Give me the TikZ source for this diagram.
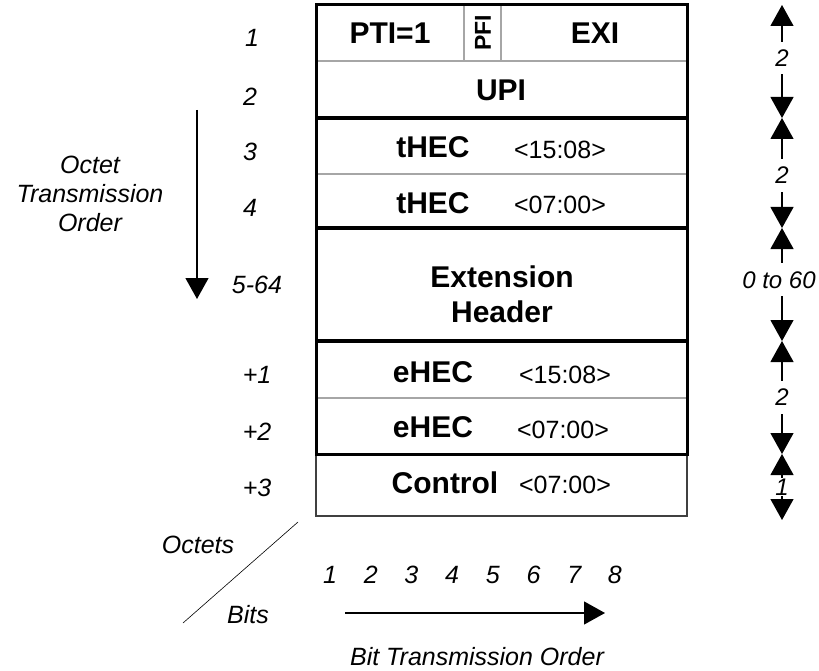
\documentclass[tikz,border=0pt]{standalone}
\usepackage{fontspec}
\setmainfont{Liberation Sans}
\usetikzlibrary{arrows.meta}
\tikzset{
  field/.style={font=\fontsize{30}{35}\selectfont\bfseries},
  bitrange/.style={font=\fontsize{25}{28}\selectfont},
  octet/.style={font=\fontsize{25}{29}\selectfont\itshape},
  dimlabel/.style={font=\fontsize{24}{28}\selectfont\itshape, fill=white},
  tipped/.style={-{Triangle[width=23pt,length=21pt]}, line width=1.2pt},
  dimline/.style={{Triangle[width=23pt,length=21pt]}-{Triangle[width=23pt,length=21pt]}, line width=1.2pt},
  rowline/.style={line width=3.5pt},
  thinline/.style={line width=1.5pt, black!35},
}
\begin{document}
\begin{tikzpicture}[x=1pt,y=-1pt]
\useasboundingbox (0,0) rectangle (819,671);
		% the frame
		\draw[line width=2pt, black!75] (316,454) rectangle (687,516);
		\draw[thinline] (316,61) -- (687,61);
		\draw[thinline] (464,5) -- (464,61);
		\draw[thinline] (501,5) -- (501,61);
		\draw[thinline] (316,174) -- (687,174);
		\draw[thinline] (316,398) -- (687,398);
		\draw[rowline] (316,118) -- (687,118);
		\draw[rowline] (316,228) -- (687,228);
		\draw[rowline] (316,341) -- (687,341);
		\draw[line width=3pt] (316,5) rectangle (687,454);
    \node[field] (pti) at (390,33) {PTI=1};
    \node[field, font=\fontsize{23}{24}\selectfont\bfseries, rotate=90] (pfi) at (483,33) {PFI};
    \node[field] (exi) at (595,33) {EXI};
    \node[field] (upi) at (501,90) {UPI};
    \node[field] (thec1) at (433,147) {tHEC};
    \node[bitrange] (thec1r) at (560,150) {<15:08>};
    \node[field] (thec2) at (433,203) {tHEC};
    \node[bitrange] (thec2r) at (560,205) {<07:00>};
    \node[field, align=center] (ext) at (502,294) {Extension\\Header};
    \node[field] (ehec1) at (433,372) {eHEC};
    \node[bitrange] (ehec1r) at (565,375) {<15:08>};
    \node[field] (ehec2) at (433,427) {eHEC};
    \node[bitrange] (ehec2r) at (563,430) {<07:00>};
    \node[field] (ctrl) at (445,483) {Control};
    \node[bitrange] (ctrlr) at (565,485) {<07:00>};
		% octet numbers
    \node[octet] (o1) at (252,38) {1};
    \node[octet] (o2) at (250,97) {2};
    \node[octet] (o3) at (250,152) {3};
    \node[octet] (o4) at (250,208) {4};
    \node[octet] (o5) at (257,285) {5-64};
    \node[octet] (p1) at (257,375) {+1};
    \node[octet] (p2) at (257,432) {+2};
    \node[octet] (p3) at (257,488) {+3};
		% octet order
    \coordinate (otop) at (197,110);
    \coordinate (obot) at (197,299);
		\draw[tipped] (otop) -- (obot);
    \node[octet, align=center] (oorder) at (90,194) {Octet\\Transmission\\Order};
		% lengths on the right
    \coordinate (d0) at (782,5);
    \coordinate (d1) at (782,118);
    \coordinate (d2) at (782,228);
    \coordinate (d3) at (782,341);
    \coordinate (d4) at (782,454);
    \coordinate (d5) at (782,520);
		\draw[dimline] (d0) -- node[dimlabel, inner sep=8pt, pos=0.47] (l1) {2} (d1);
		\draw[dimline] (d1) -- node[dimlabel, inner sep=8pt, pos=0.52] (l2) {2} (d2);
		\draw[dimline] (d2) -- node[dimlabel, inner sep=8pt, pos=0.46, xshift=-3pt] (l3) {0 to 60} (d3);
		\draw[dimline] (d3) -- node[dimlabel, inner sep=8pt, pos=0.5] (l4) {2} (d4);
		\draw[dimline] (d4) -- node[dimlabel, inner sep=1pt, pos=0.5] (l5) {1} (d5);
		% bits
    \foreach \b in {1,...,8}
      \node[octet] (bit\b) at ({330+40.7*(\b-1)},575) {\b};
    \coordinate (bstart) at (345,613);
    \coordinate (bend) at (605,613);
		\draw[tipped] (bstart) -- (bend);
    \node[octet] (border) at (477,657) {Bit Transmission Order};
    \coordinate (slashtop) at (298,522);
    \coordinate (slashbot) at (183,623);
		\draw[line width=0.6pt] (slashtop) -- (slashbot);
    \node[octet] (octets) at (198,545) {Octets};
    \node[octet] (bits) at (248,615) {Bits};
\end{tikzpicture}
\end{document}
